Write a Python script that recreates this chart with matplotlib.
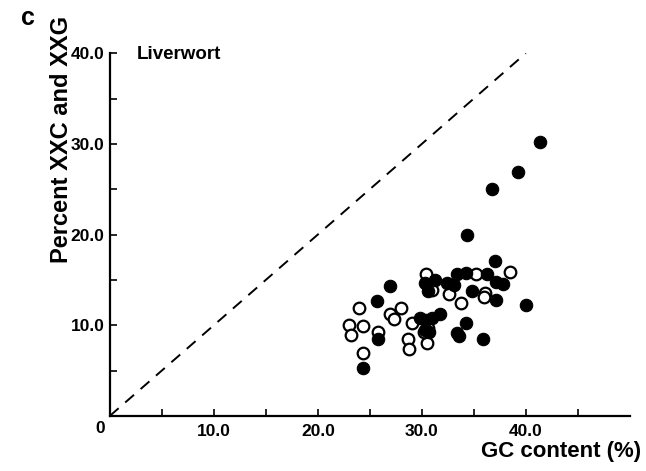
import matplotlib
matplotlib.use("Agg")
import matplotlib.pyplot as plt

plt.rcParams['font.family'] = ['Liberation Sans', 'DejaVu Sans']

# GC content (%) vs percent XXC+XXG
filled_x = [41.4, 39.2, 36.7, 34.3, 37.0, 33.4, 34.2, 36.3, 37.1, 37.8, 34.8, 37.1,
            40.0, 31.3, 30.3, 30.6, 32.4, 33.1, 26.9, 25.7, 31.7, 29.8, 30.4, 31.0,
            30.3, 30.7, 34.2, 33.4, 33.6, 35.9, 25.8, 24.3]
filled_y = [30.2, 26.9, 25.0, 20.0, 17.1, 15.7, 15.8, 15.7, 14.8, 14.5, 13.8, 12.8,
            12.2, 15.0, 14.7, 13.8, 14.7, 14.4, 14.3, 12.7, 11.2, 10.8, 10.6, 10.8,
            9.5, 9.3, 10.3, 9.1, 8.8, 8.5, 8.5, 5.3]
open_x = [30.4, 35.2, 38.5, 36.1, 36.0, 32.6, 33.8, 31.0, 24.0, 26.9, 27.3, 28.0,
          23.0, 23.2, 24.3, 25.8, 24.3, 28.7, 28.8, 29.1, 30.5, 30.6, 30.2]
open_y = [15.7, 15.7, 15.9, 13.6, 13.1, 13.4, 12.5, 13.9, 11.9, 11.2, 10.7, 11.9,
          10.0, 8.9, 9.9, 9.3, 6.9, 8.5, 7.4, 10.2, 8.0, 9.7, 9.3]
diag = [0, 40]
tick_vals = [5, 10, 15, 20, 25, 30, 35, 40, 45]
label_vals = [10, 20, 30, 40]

fig = plt.figure(figsize=(6.46, 4.71), dpi=100)
ax = fig.add_axes([0.170, 0.117, 0.805, 0.770])
ax.set_xlim(0, 50)
ax.set_ylim(0, 40)

ax.plot(diag, diag, color='black', lw=1.4, dashes=(6, 4.5))
ax.scatter(open_x, open_y, s=70, facecolors='white', edgecolors='black', linewidths=1.6, zorder=3)
ax.scatter(filled_x, filled_y, s=80, facecolors='black', edgecolors='black', linewidths=0.8, zorder=4)

for s in ['top', 'right']:
    ax.spines[s].set_visible(False)
for s in ['left', 'bottom']:
    ax.spines[s].set_linewidth(1.6)

ax.set_xticks(tick_vals)
ax.set_xticklabels([f"{v:.1f}" if v in label_vals else "" for v in tick_vals],
                   fontsize=12.5, fontweight='bold')
ax.set_yticks([v for v in tick_vals if v <= 40])
ax.set_yticklabels([f"{v:.1f}" if v in label_vals else "" for v in tick_vals if v <= 40],
                   fontsize=12.5, fontweight='bold')
ax.tick_params(axis='both', direction='in', length=5, width=1.2)
ax.tick_params(axis='x', pad=6)
ax.tick_params(axis='y', pad=4)

ax.text(-0.5, -0.6, "0", transform=ax.transData, ha='right', va='top',
        fontsize=12.5, fontweight='bold')
ax.text(2.6, 39.9, "Liverwort", ha='left', va='center', fontsize=13.5, fontweight='bold')

fig.text(641 / 646, 1 - 451 / 471, "GC content (%)", ha='right', va='center',
         fontsize=16, fontweight='bold')
fig.text(62 / 646, 1 - 139 / 471, "Percent XXC and XXG", ha='center', va='center',
         rotation=90, fontsize=17, fontweight='bold')
fig.text(28 / 646, 1 - 18 / 471, "c", ha='center', va='center', fontsize=18, fontweight='bold')

fig.savefig("out.png", dpi=100)
